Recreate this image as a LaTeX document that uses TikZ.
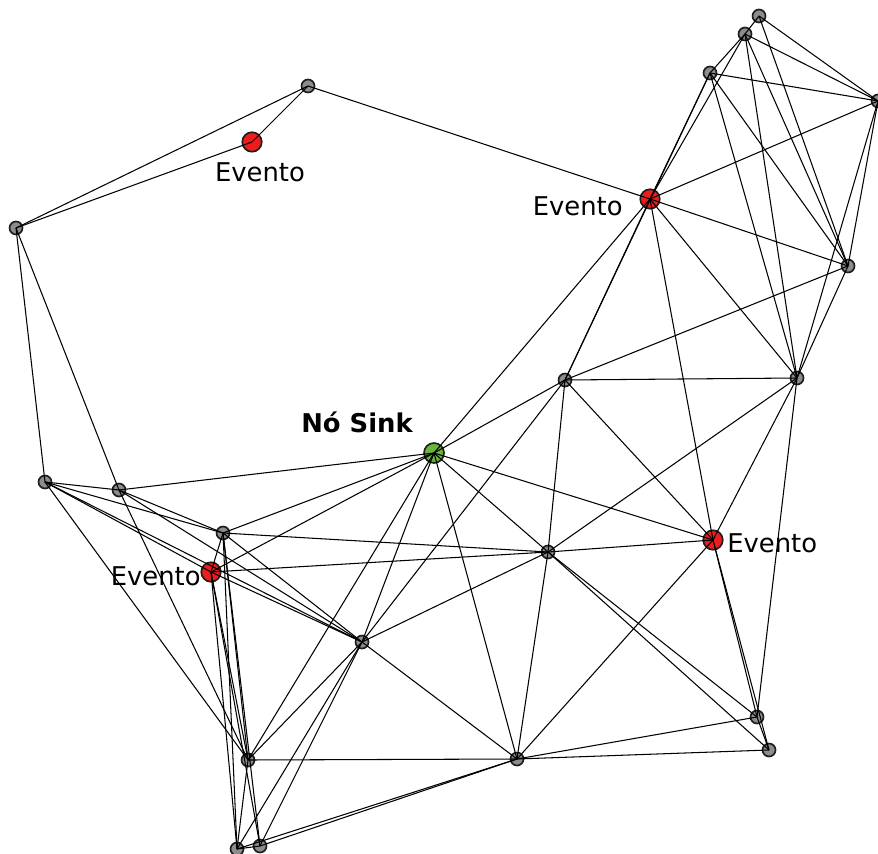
\documentclass[tikz,border=0pt]{standalone}
\usepackage{fontspec}
\setmainfont{DejaVu Sans}
\definecolor{nodegray}{HTML}{8C8C8C}
\definecolor{eventred}{HTML}{EE1D1D}
\definecolor{sinkgreen}{HTML}{6BB53C}
\definecolor{rim}{HTML}{1E1E1E}
\begin{document}
\begin{tikzpicture}[x=0.02cm,y=-0.02cm,
  sensor/.style={circle,draw=rim,line width=0.95pt,fill=nodegray,inner sep=0pt,minimum size=0.26cm},
  event/.style={circle,draw=rim,line width=0.95pt,fill=eventred,inner sep=0pt,minimum size=0.39cm},
  sink/.style={circle,draw=rim,line width=0.95pt,fill=sinkgreen,inner sep=0pt,minimum size=0.40cm},
  lbl/.style={inner sep=0pt,font=\fontsize{14.7}{17}\selectfont},
  link/.style={line width=0.6pt,black}]
\useasboundingbox (0,0) rectangle (878,854);

% sensor field
\node[sensor] (A) at (308,86) {};
\node[event]  (B) at (252,142) {};
\node[sensor] (C) at (16,228) {};
\node[event]  (D) at (650,199) {};
\node[sensor] (E) at (759,16) {};
\node[sensor] (F) at (745,34) {};
\node[sensor] (G) at (710,73) {};
\node[sensor] (H) at (878,101) {};
\node[sensor] (I) at (848,266) {};
\node[sensor] (J) at (797,378) {};
\node[sensor] (K) at (565,380) {};
\node[sink]   (L) at (434,453) {};
\node[sensor] (M) at (45,482) {};
\node[sensor] (N) at (119,490) {};
\node[sensor] (O) at (223,533) {};
\node[event]  (P) at (211,572) {};
\node[sensor] (Q) at (548,552) {};
\node[event]  (R) at (713,540) {};
\node[sensor] (S) at (362,642) {};
\node[sensor] (T) at (757,717) {};
\node[sensor] (U) at (769,750) {};
\node[sensor] (V) at (517,759) {};
\node[sensor] (W) at (248,760) {};
\node[sensor] (X) at (237,849) {};
\node[sensor] (Y) at (260,846) {};

% labels
\node[lbl] (labB) at (260,172) {Evento};
\node[lbl,anchor=east] (labD) at (623,206) {Evento};
\node[lbl,anchor=west] (labR) at (727,543) {Evento};
\node[lbl,anchor=east] (labP) at (201,576) {Evento};
\node[lbl,font=\fontsize{14.7}{17}\selectfont\bfseries] (labL) at (357,422) {Nó Sink};

% radio links
\foreach \a/\b in {A/C,A/B,B/C,A/D,
  C/M,C/N,
  M/N,M/O,M/P,M/S,M/W,
  N/O,N/S,N/W,N/L,
  O/P,O/L,O/Q,O/S,O/W,O/X,O/Y,
  P/L,P/Q,P/S,P/W,P/X,P/Y,
  S/L,S/K,S/Q,S/V,S/W,S/X,S/Y,
  W/L,W/V,W/X,
  X/Y,X/V,Y/V,
  V/L,V/Q,V/R,V/T,V/U,
  Q/L,Q/K,Q/J,Q/R,Q/T,Q/U,
  L/K,L/D,L/R,
  K/D,K/G,K/J,K/I,K/R,
  R/T,R/U,R/J,R/D,
  T/U,T/J,
  J/D,J/I,J/G,J/F,J/H,
  D/G,D/F,D/I,D/H,
  I/G,I/F,I/E,I/H,
  H/G,H/F,H/E,
  E/F,F/G}
  \draw[link] (\a.center) -- (\b.center);
\end{tikzpicture}
\end{document}
